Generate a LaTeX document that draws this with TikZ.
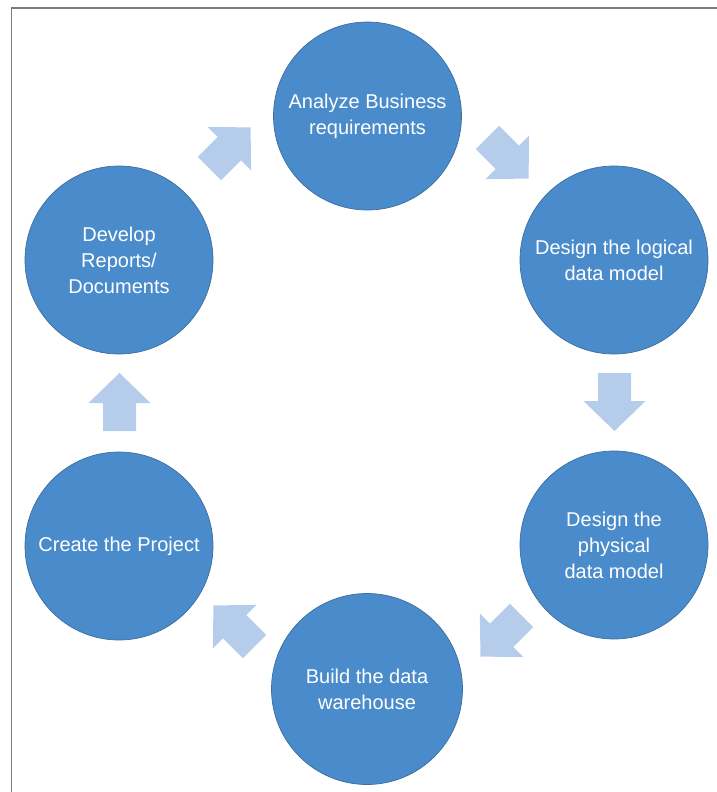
\documentclass[tikz,border=0pt]{standalone}
\usepackage{fontspec}
\setmainfont{Liberation Sans}
\definecolor{stagefill}{HTML}{4A8BCB}
\definecolor{stageline}{HTML}{3D6E9E}
\definecolor{flowfill}{HTML}{B5CDEB}
\definecolor{framegray}{HTML}{7C7C7C}
\tikzset{
  stage/.style={circle, draw=stageline, line width=0.7pt, fill=stagefill,
    minimum size=188pt, inner sep=0pt, text=white, align=center,
    font=\fontsize{20}{26}\selectfont},
  flow/.pic={\fill[flowfill] (-29,-16.5) -- (-1,-16.5) -- (-1,-31) -- (29,0)
    -- (-1,31) -- (-1,16.5) -- (-29,16.5) -- cycle;}
}
\begin{document}
\begin{tikzpicture}[x=1pt, y=-1pt]
  \useasboundingbox (0,0) rectangle (717,792);
  \draw[framegray, line width=1.6pt] (11.5,792) -- (11.5,8) -- (717,8);
  % stages
  \node[stage] (ana) at (367.5,116) {Analyze Business\\requirements};
  \node[stage] (logic) at (614,260) {Design the logical\\data model};
  \node[stage] (phys) at (614,545) {Design the\\physical\\data model};
  \node[stage, minimum size=191pt] (build) at (367,689) {Build the data\\warehouse};
  \node[stage] (create) at (119,546) {Create the Project};
  \node[stage] (develop) at (119,260) {Develop\\Reports/\\Documents};
  % flow arrows
  \pic[rotate=45] at (230,148) {flow};
  \pic[rotate=-45] at (508,158) {flow};
  \pic[rotate=-90] at (614.5,402) {flow};
  \pic[rotate=-135] at (501,636) {flow};
  \pic[rotate=135] at (234,626) {flow};
  \pic[rotate=90] at (119.5,402) {flow};
\end{tikzpicture}
\end{document}
